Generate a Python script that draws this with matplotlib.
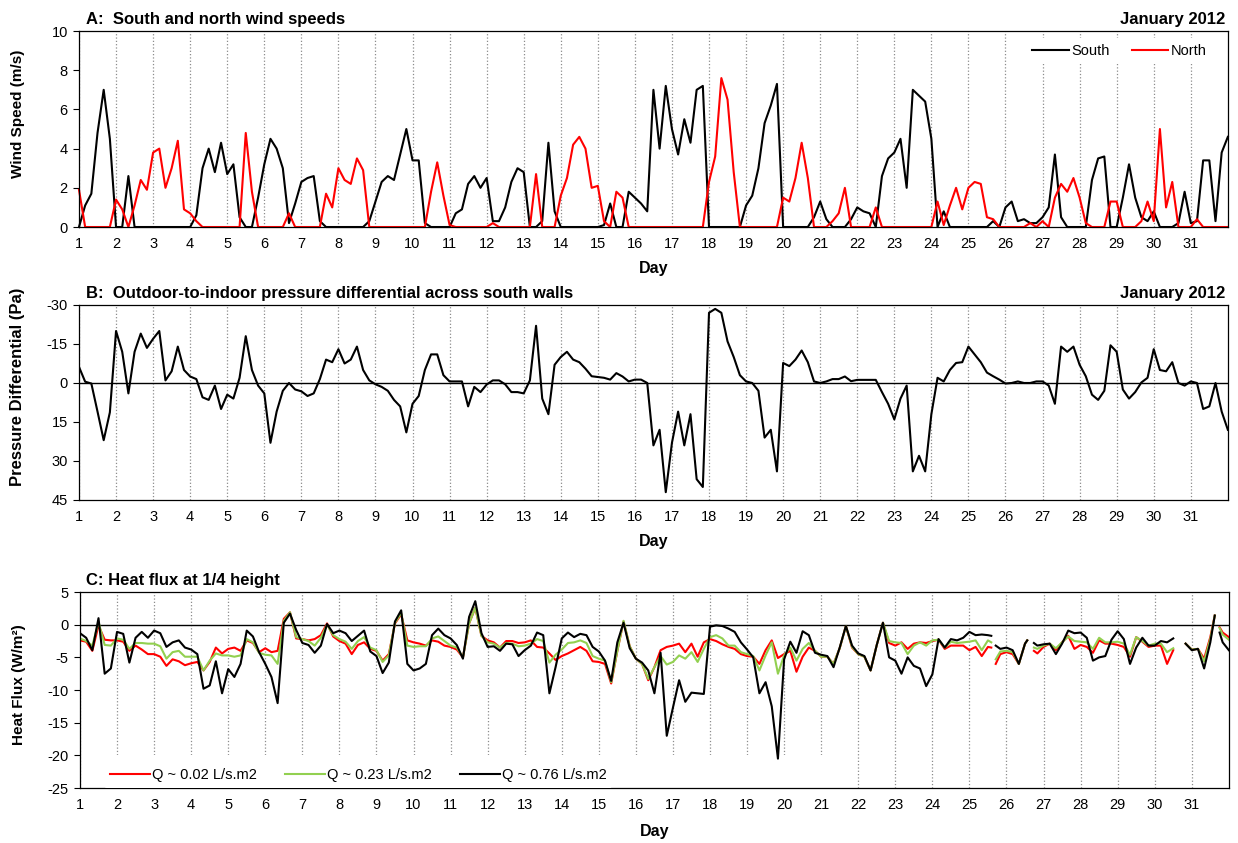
import numpy as np
import matplotlib.pyplot as plt

plt.rcParams['font.family'] = ['Liberation Sans', 'DejaVu Sans']
plt.rcParams['axes.unicode_minus'] = False

# readings every 4 hours, 1 Jan 00:00 .. 1 Feb 00:00 (6 values per day)
wind_south = [
    0, 1.1, 1.7, 4.8, 7.0, 4.5,
    0, 0, 2.6, 0, 0, 0,
    0, 0, 0, 0, 0, 0,
    0, 0.6, 3.0, 4.0, 2.8, 4.3,
    2.7, 3.2, 0.5, 0, 0, 1.5,
    3.2, 4.5, 4.0, 3.0, 0.2, 1.2,
    2.3, 2.5, 2.6, 0.3, 0, 0,
    0, 0, 0, 0, 0, 0.3,
    1.3, 2.3, 2.6, 2.4, 3.7, 5.0,
    3.4, 3.4, 0.2, 0, 0, 0,
    0, 0.7, 0.9, 2.2, 2.6, 2.0,
    2.5, 0.3, 0.3, 1.0, 2.3, 3.0,
    2.8, 0, 0, 0.3, 4.3, 0.8,
    0, 0, 0, 0, 0, 0,
    0, 0.1, 1.2, 0, 0, 1.8,
    1.5, 1.2, 0.8, 7.0, 4.0, 7.2,
    5.0, 3.7, 5.5, 4.3, 7.0, 7.2,
    0, 0, 0, 0, 0, 0,
    1.1, 1.6, 3.0, 5.3, 6.2, 7.3,
    0, 0, 0, 0, 0, 0.5,
    1.3, 0.4, 0, 0, 0, 0.4,
    1.0, 0.8, 0.7, 0, 2.6, 3.5,
    3.8, 4.5, 2.0, 7.0, 6.7, 6.4,
    4.5, 0, 0.8, 0, 0, 0,
    0, 0, 0, 0, 0.3, 0,
    1.0, 1.3, 0.3, 0.4, 0.2, 0.2,
    0.5, 1.0, 3.7, 0.5, 0, 0,
    0, 0, 2.4, 3.5, 3.6, 0,
    0, 1.5, 3.2, 1.5, 0.5, 0.3,
    0.8, 0, 0, 0, 0.2, 1.8,
    0.2, 0.3, 3.4, 3.4, 0.3, 3.8,
    4.6]

wind_north = [
    1.9, 0, 0, 0, 0, 0,
    1.4, 0.9, 0, 1.1, 2.4, 1.9,
    3.8, 4.0, 2.0, 3.0, 4.4, 0.9,
    0.7, 0.3, 0, 0, 0, 0,
    0, 0, 0, 4.8, 1.8, 0,
    0, 0, 0, 0, 0.7, 0,
    0, 0, 0, 0, 1.7, 1.0,
    3.0, 2.4, 2.2, 3.5, 2.9, 0,
    0, 0, 0, 0, 0, 0,
    0, 0, 0, 1.8, 3.3, 1.6,
    0.1, 0, 0, 0, 0, 0,
    0, 0.2, 0, 0, 0, 0,
    0, 0, 2.7, 0, 0, 0,
    1.6, 2.5, 4.2, 4.6, 4.0, 2.0,
    2.1, 0.3, 0, 1.8, 1.5, 0,
    0, 0, 0, 0, 0, 0,
    0, 0, 0, 0, 0, 0,
    2.3, 3.6, 7.6, 6.5, 2.8, 0,
    0, 0, 0, 0, 0, 0,
    1.5, 1.3, 2.5, 4.3, 2.5, 0,
    0, 0, 0.3, 0.7, 2.0, 0,
    0, 0, 0, 1.0, 0, 0,
    0, 0, 0, 0, 0, 0,
    0, 1.3, 0.1, 1.1, 2.0, 0.9,
    2.0, 2.3, 2.2, 0.5, 0.4, 0,
    0, 0, 0, 0, 0.2, 0,
    0.3, 0, 1.5, 2.2, 1.8, 2.5,
    1.5, 0.2, 0, 0, 0, 1.3,
    1.3, 0, 0, 0, 0.3, 1.3,
    0.3, 5.0, 1.0, 2.3, 0, 0,
    0, 0.4, 0, 0, 0, 0,
    0]

pressure_south = [
    -6.2, -0.5, 0.2, 11, 22, 11.3,
    -20, -12, 4, -12, -19, -13.5,
    -17, -20, -1, -4.5, -14, -5,
    -2.5, -1.5, 5.5, 6.5, 1, 10,
    4.5, 6, -2, -18, -5, 1,
    4, 23, 11, 3, 0, 2.5,
    3.2, 5, 4, -1.5, -9, -8,
    -13, -7.5, -9, -14, -5, -1,
    0.5, 1.5, 3, 6.5, 9, 19,
    8, 5, -5, -11, -11, -3,
    -0.6, -0.6, -0.6, 9, 1.5, 3.5,
    0.6, -1, -1, 0.5, 3.5, 3.5,
    4, -1, -22, 6, 12, -7,
    -10, -12, -9, -8, -5.5, -2.6,
    -2.3, -2, -1.3, -3.8, -2.5, -0.6,
    -1.3, -1.3, 0, 24, 18, 42,
    23, 11, 24, 12, 37, 40,
    -27, -28.5, -27, -16, -10, -3,
    -0.6, 0, 3, 21, 18, 34,
    -7.7, -6.5, -9, -12.5, -8, -0.6,
    0, -0.6, -1.5, -1.5, -2.5, -0.7,
    -1.2, -1.2, -1.2, -1.2, 3.5, 8,
    14, 6, 1, 34, 28, 34,
    12, -2, -0.6, -5, -7.7, -8,
    -14, -11, -8, -4, -2.6, -1.3,
    0.2, 0, -0.6, 0, 0, -0.6,
    -0.6, 1, 8, -14, -12, -14,
    -7, -2.6, 4.5, 6.5, 3, -14.5,
    -12, 2.5, 6, 3.5, -0.2, -2,
    -13, -5, -4.5, -8, 0, 1,
    -0.6, 0, 10, 9, 0, 11,
    18]

nan = np.nan
heat_q002 = [
    -2.4, -2.6, -4.0, -0.1, -2.3, -2.4,
    -2.4, -2.6, -4.0, -3.2, -3.8, -4.5,
    -4.5, -4.9, -6.3, -5.3, -5.6, -6.2,
    -5.9, -5.7, -7.0, -5.7, -3.5, -4.4,
    -3.7, -3.5, -4.0, -2.4, -2.8, -4.2,
    -3.6, -4.2, -4.0, 0.9, 1.9, -2.1,
    -2.2, -2.4, -2.2, -1.6, 0.2, -1.8,
    -2.5, -2.9, -4.5, -3.1, -2.7, -3.7,
    -4.0, -5.5, -4.5, 0.2, 1.6, -2.4,
    -2.7, -2.9, -3.2, -2.4, -2.6, -3.2,
    -3.4, -3.8, -5.0, 0.2, 2.6, -1.7,
    -2.4, -2.7, -3.5, -2.5, -2.5, -2.8,
    -2.7, -2.4, -3.4, -3.5, -4.4, -5.4,
    -4.8, -4.4, -3.9, -3.4, -4.0, -5.6,
    -5.7, -6.0, -9.0, -4.0, 0.5, -3.3,
    -5.2, -6.0, -8.5, -6.5, -3.9, -3.4,
    -3.2, -2.9, -4.2, -2.9, -4.9, -2.7,
    -2.2, -2.5, -3.0, -3.4, -3.7, -4.5,
    -4.8, -4.9, -6.0, -3.9, -2.4, -5.1,
    -4.5, -4.0, -7.2, -4.9, -3.5, -4.0,
    -4.9, -4.9, -6.0, -3.6, -0.2, -3.5,
    -4.5, -4.9, -7.0, -3.1, 0.3, -2.8,
    -3.2, -2.7, -3.7, -2.9, -2.7, -2.8,
    -2.5, -2.3, -3.7, -3.2, -3.2, -3.2,
    -3.9, -3.4, -4.8, -3.4, nan, -4.5,
    -4.2, -4.5, -6.0, -2.9, nan, -4.4,
    -3.4, -2.9, -3.9, -2.7, -1.7, -3.7,
    -3.1, -3.4, -4.3, -2.4, -2.9, -2.9,
    -3.1, -3.4, -4.9, -1.9, -2.6, -3.4,
    -3.2, -3.2, -6.0, -3.9, nan, -2.9,
    -3.8, -3.7, -5.2, -1.9, nan, -1.2,
    -1.9]

heat_q023 = [
    -2.1, -2.5, -3.2, 0.4, -3.1, -3.2,
    -2.1, -2.3, -3.7, -2.8, -2.8, -2.9,
    -2.9, -3.3, -5.2, -4.2, -4.0, -4.9,
    -4.9, -4.9, -7.0, -5.5, -4.4, -4.7,
    -4.7, -4.9, -4.7, -2.2, -2.7, -4.3,
    -4.6, -4.7, -6.0, 0.6, 1.9, -1.9,
    -2.2, -2.5, -3.2, -2.0, 0, -1.6,
    -2.2, -2.6, -3.7, -2.5, -1.9, -3.5,
    -3.9, -5.7, -4.7, 0.3, 1.8, -3.2,
    -3.4, -3.3, -3.3, -2.1, -1.8, -2.5,
    -3.2, -3.5, -5.0, 0.2, 2.6, -1.7,
    -2.7, -2.9, -3.5, -2.8, -2.9, -3.3,
    -3.2, -2.9, -2.2, -2.5, -5.8, -4.6,
    -3.8, -2.8, -2.7, -2.4, -2.8, -4.8,
    -5.2, -5.5, -8.8, -4.0, 0.6, -3.3,
    -5.2, -6.0, -8.3, -6.5, -4.8, -6.1,
    -5.7, -4.7, -5.2, -4.2, -5.7, -3.7,
    -1.9, -1.6, -2.1, -3.2, -3.2, -4.2,
    -4.5, -4.8, -7.0, -4.7, -2.7, -7.5,
    -4.7, -3.5, -5.5, -3.7, -2.8, -4.0,
    -4.9, -4.9, -6.0, -3.6, -0.2, -3.4,
    -4.5, -4.9, -7.0, -3.1, 0.3, -2.5,
    -2.7, -2.8, -4.5, -3.2, -2.7, -3.2,
    -2.4, -2.3, -3.5, -2.6, -2.8, -2.7,
    -2.6, -2.4, -3.9, -2.4, nan, -4.1,
    -4.0, -4.2, -6.0, -2.9, nan, -3.7,
    -3.2, -2.9, -3.6, -2.7, -1.8, -2.5,
    -2.6, -2.7, -3.7, -2.0, -2.7, -2.7,
    -2.6, -2.9, -4.6, -1.9, -2.5, -3.2,
    -2.9, -2.9, -4.2, -3.6, nan, -2.9,
    -3.8, -3.7, -5.6, -2.2, nan, -1.5,
    -2.3]

heat_q076 = [
    -1.3, -2.0, -3.9, 1.0, -7.5, -6.7,
    -1.1, -1.4, -5.8, -2.0, -1.1, -2.0,
    -0.9, -1.3, -3.4, -2.7, -2.4, -3.5,
    -3.8, -4.5, -9.8, -9.3, -5.6, -10.5,
    -6.8, -8.0, -6.0, -0.9, -1.8, -4.2,
    -6.0, -8.0, -12.0, 0.3, 1.7, -0.8,
    -2.8, -3.1, -4.3, -3.2, 0.1, -1.3,
    -0.9, -1.3, -2.5, -1.7, -0.9, -4.1,
    -4.8, -7.4, -5.8, 0.5, 2.2, -6.0,
    -7.0, -6.7, -6.0, -1.6, -0.6, -1.6,
    -2.1, -3.1, -5.2, 1.2, 3.6, -1.3,
    -3.4, -3.3, -4.0, -2.9, -3.0, -4.8,
    -3.9, -3.2, -1.2, -1.6, -10.5, -6.5,
    -2.1, -1.2, -1.9, -1.4, -1.6, -3.4,
    -4.1, -5.5, -8.6, -2.7, 0.3, -3.6,
    -5.2, -5.8, -7.0, -10.5, -4.3, -17.0,
    -12.7, -8.5, -11.8, -10.4, -10.5, -10.6,
    -0.3, -0.1, -0.2, -0.6, -1.1, -2.7,
    -3.8, -5.0, -10.5, -8.8, -12.5, -20.5,
    -5.3, -2.6, -4.3, -1.0, -1.6, -4.3,
    -4.6, -4.8, -6.5, -3.5, -0.2, -3.2,
    -4.4, -4.8, -7.0, -3.1, 0.3, -5.0,
    -5.5, -7.5, -5.0, -6.3, -6.7, -9.4,
    -7.6, -2.2, -3.5, -2.2, -2.4, -2.0,
    -1.1, -1.6, -1.5, -1.6, nan, -3.7,
    -3.5, -3.9, -6.0, -2.9, nan, -3.2,
    -3.0, -2.9, -4.5, -2.9, -0.9, -1.3,
    -1.2, -2.0, -5.5, -5.0, -4.8, -2.3,
    -1.0, -2.2, -6.0, -3.5, -2.0, -3.2,
    -3.2, -2.5, -2.7, -2.1, nan, -2.9,
    -3.9, -3.7, -6.7, -2.7, nan, -2.7,
    -3.9]

# extra readings at the edges of the missing-data gaps
heat_edge_days = [25.59, 25.71, 26.56, 26.74, 31.62, 31.75]
heat_edge_q002 = [-3.5, -6.0, -2.4, -4.0, 1.4, -0.4]
heat_edge_q023 = [-2.7, -5.3, -2.4, -3.5, 1.4, -0.5]
heat_edge_q076 = [-1.7, -3.2, -2.4, -2.8, 1.4, -1.2]

day_ticks = list(range(1, 32))

days = 1 + np.arange(len(wind_south)) / 6.0
heat_days = np.concatenate([days, heat_edge_days])
order = np.argsort(heat_days)
heat_days = heat_days[order]
q002 = np.concatenate([heat_q002, heat_edge_q002])[order]
q023 = np.concatenate([heat_q023, heat_edge_q023])[order]
q076 = np.concatenate([heat_q076, heat_edge_q076])[order]

fig = plt.figure(figsize=(12.38, 8.43), dpi=100)
ax_a = fig.add_axes([0.0638, 0.7307, 0.928, 0.2325])
ax_b = fig.add_axes([0.0638, 0.4069, 0.928, 0.2313])
ax_c = fig.add_axes([0.0646, 0.0652, 0.928, 0.2325])


def style_axis(ax):
    ax.set_xlim(1, 32)
    ax.set_xticks(day_ticks)
    ax.set_axisbelow(True)
    ax.grid(axis='x', color='#8c8c8c', linestyle=':', linewidth=0.9)
    ax.tick_params(axis='x', length=0, pad=7, labelsize=10.5)
    ax.tick_params(axis='y', length=4, width=0.8, pad=4, labelsize=10.5)
    for s in ax.spines.values():
        s.set_linewidth(0.9)
    ax.set_xlabel('Day', fontsize=11.5, fontweight='bold')
    ax.xaxis.set_label_coords(0.5, -0.175)


# A: wind speeds
style_axis(ax_a)
ax_a.plot(days, wind_south, color='black', lw=1.5, label='South', clip_on=False)
ax_a.plot(days, wind_north, color='#ff0000', lw=1.5, label='North', clip_on=False)
ax_a.set_ylim(0, 10)
ax_a.set_yticks(range(0, 11, 2))
ax_a.set_ylabel('Wind Speed (m/s)', fontsize=11, fontweight='bold')
ax_a.yaxis.set_label_coords(-0.047, 0.58)
ax_a.legend(loc='upper right', bbox_to_anchor=(0.987, 0.965), ncol=2, fontsize=10.5,
            handlelength=2.5, handletextpad=0.2, columnspacing=1.5,
            facecolor='white', edgecolor='none', framealpha=1, borderaxespad=0)
ax_a.text(0.006, 1.035, 'A:  South and north wind speeds', transform=ax_a.transAxes,
          fontsize=12, fontweight='bold', ha='left', va='baseline')
ax_a.text(0.998, 1.035, 'January 2012', transform=ax_a.transAxes,
          fontsize=12, fontweight='bold', ha='right', va='baseline')

# B: pressure differential
style_axis(ax_b)
ax_b.axhline(0, color='black', lw=1)
ax_b.plot(days, pressure_south, color='black', lw=1.5)
ax_b.set_ylim(45, -30)
ax_b.set_yticks([-30, -15, 0, 15, 30, 45])
ax_b.set_ylabel('Pressure Differential (Pa)', fontsize=12, fontweight='bold')
ax_b.yaxis.set_label_coords(-0.047, 0.58)
ax_b.text(0.006, 1.035, 'B:  Outdoor-to-indoor pressure differential across south walls',
          transform=ax_b.transAxes, fontsize=12, fontweight='bold', ha='left', va='baseline')
ax_b.text(0.998, 1.035, 'January 2012', transform=ax_b.transAxes,
          fontsize=12, fontweight='bold', ha='right', va='baseline')

# C: heat flux
style_axis(ax_c)
ax_c.axhspan(-25, -20, xmin=0.016, xmax=0.66, color='white', zorder=0.8, lw=0)
ax_c.axhline(0, color='black', lw=1)
ax_c.plot(heat_days, q002, color='#ff0000', lw=1.5, label='Q ~ 0.02 L/s.m2')
ax_c.plot(heat_days, q023, color='#92d050', lw=1.5, label='Q ~ 0.23 L/s.m2')
ax_c.plot(heat_days, q076, color='black', lw=1.5, label='Q ~ 0.76 L/s.m2')
ax_c.set_ylim(-25, 5)
ax_c.set_yticks(range(-25, 6, 5))
ax_c.set_ylabel('Heat Flux (W/m²)', fontsize=11, fontweight='bold')
ax_c.yaxis.set_label_coords(-0.047, 0.53)
ax_c.xaxis.set_label_coords(0.5, -0.185)
ax_c.legend(loc='lower left', bbox_to_anchor=(0.021, 0.0), ncol=3, fontsize=10.5,
            handlelength=2.75, handletextpad=0.15, columnspacing=1.9,
            facecolor='white', edgecolor='none', framealpha=1, borderaxespad=0)
ax_c.text(0.005, 1.035, 'C: Heat flux at 1/4 height', transform=ax_c.transAxes,
          fontsize=12, fontweight='bold', ha='left', va='baseline')

fig.savefig('out.png', dpi=100)
